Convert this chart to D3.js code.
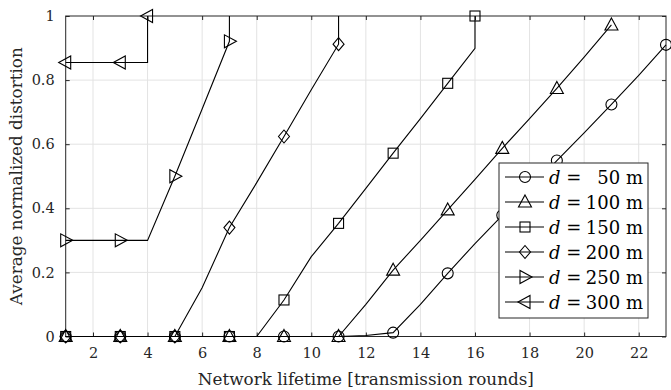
<!DOCTYPE html>
<html><head><meta charset="utf-8">
<script src="https://cdn.jsdelivr.net/npm/d3@7"></script>
<style>body{margin:0;background:#fff} text{font-family:"DejaVu Serif";}</style>
</head><body><svg id="c" width="671" height="390"></svg>
<script>
// Data: [x, y] points, markers every other point
const d50  = [[1,0],[2,0],[3,0],[4,0],[5,0],[6,0],[7,0],[8,0],[9,0],[10,0],[11,0],[12,0.003],[13,0.012],[14,0.1],[15,0.197],[16,0.29],[17,0.378],[18,0.46],[19,0.549],[20,0.635],[21,0.724],[22,0.815],[23,0.91]];
const d100 = [[1,0],[2,0],[3,0],[4,0],[5,0],[6,0],[7,0],[8,0],[9,0],[10,0],[11,0],[12,0.1],[13,0.207],[14,0.3],[15,0.395],[16,0.49],[17,0.587],[18,0.68],[19,0.774],[20,0.872],[21,0.972]];
const d150 = [[1,0],[2,0],[3,0],[4,0],[5,0],[6,0],[7,0],[8,0],[9,0.114],[10,0.249],[11,0.353],[12,0.462],[13,0.572],[14,0.68],[15,0.79],[16,0.899],[16,1]];
const d200 = [[1,0],[2,0],[3,0],[4,0],[5,0],[6,0.152],[7,0.34],[8,0.48],[9,0.624],[10,0.77],[11,0.912],[11,1]];
const d250 = [[1,0.3],[2,0.3],[3,0.3],[4,0.3],[5,0.5],[6,0.71],[7,0.921],[7,1]];
const d300 = [[1,0.855],[2,0.855],[3,0.855],[4,0.855],[4,1]];
const seriesNames = ["50","100","150","200","250","300"];
const seriesData = [d50,d100,d150,d200,d250,d300];
const markerTypes = ["circle","up","square","diamond","right","left"];
const xTicks = [2,4,6,8,10,12,14,16,18,20,22];
const yTicks = [0,0.2,0.4,0.6,0.8,1];
const yTickLabels = ["0","0.2","0.4","0.6","0.8","1"];

const svg = d3.select("#c");
const L=65.7, R=666, T=16, B=336.5;
const x = d3.scaleLinear().domain([1,23]).range([L,R]);
const y = d3.scaleLinear().domain([0,1]).range([B,T]);
const font = "DejaVu Serif";
const ink = "#262626";

// grid
const g = svg.append("g");
g.selectAll(".gx").data(xTicks).join("line")
  .attr("x1",d=>x(d)).attr("x2",d=>x(d)).attr("y1",T).attr("y2",B)
  .attr("stroke","#e3e3e3").attr("stroke-width",1);
g.selectAll(".gy").data(yTicks.filter(v=>v>0&&v<1)).join("line")
  .attr("x1",L).attr("x2",R).attr("y1",d=>y(d)).attr("y2",d=>y(d))
  .attr("stroke","#e3e3e3").attr("stroke-width",1);

// axes
const ax = d3.axisBottom(x).tickValues(xTicks).tickSize(-4).tickPadding(11).tickFormat(d3.format("d"));
const axT = d3.axisTop(x).tickValues(xTicks).tickSize(-4).tickFormat("");
const ay = d3.axisLeft(y).tickValues(yTicks).tickSize(-4).tickPadding(11).tickFormat((d,i)=>yTickLabels[i]);
const ayR = d3.axisRight(y).tickValues(yTicks).tickSize(-4).tickFormat("");
function style(sel){
  sel.attr("font-family",null).attr("font-size",null);
  sel.select(".domain").remove();
  sel.selectAll("line").attr("stroke",ink);
  sel.selectAll("text").attr("fill",ink).attr("font-family",font).attr("font-size",14.5);
}
svg.append("g").attr("transform",`translate(0,${B})`).call(ax).call(style);
svg.append("g").attr("transform",`translate(0,${T})`).call(axT).call(style);
svg.append("g").attr("transform",`translate(${L},0)`).call(ay).call(style);
svg.append("g").attr("transform",`translate(${R},0)`).call(ayR).call(style);
svg.append("rect").attr("x",L).attr("y",T).attr("width",R-L).attr("height",B-T)
  .attr("fill","none").attr("stroke",ink).attr("stroke-width",1);

// lines
const line = d3.line().x(d=>x(d[0])).y(d=>y(d[1]));
function marker(sel, type){
  if(type==="circle") sel.append("circle").attr("r",5.5);
  else if(type==="square") sel.append("rect").attr("x",-5).attr("y",-5).attr("width",10).attr("height",10);
  else if(type==="diamond") sel.append("path").attr("d",`M0,-6.5L5.5,0L0,6.5L-5.5,0Z`);
  else if(type==="up") sel.append("path").attr("d",`M0,-7L6.5,5L-6.5,5Z`);
  else if(type==="right") sel.append("path").attr("d",`M7,0L-5,-6.5L-5,6.5Z`);
  else if(type==="left") sel.append("path").attr("d",`M-7,0L5,-6.5L5,6.5Z`);
}
seriesData.forEach((data,si)=>{
  svg.append("path").datum(data).attr("d",line).attr("fill","none").attr("stroke","#000").attr("stroke-width",1.1);
  data.forEach((p,i)=>{
    if(i%2===0){
      const m = svg.append("g").attr("transform",`translate(${x(p[0])},${y(p[1])})`)
        .attr("fill","none").attr("stroke","#000").attr("stroke-width",1.1);
      marker(m, markerTypes[si]);
    }
  });
});

// legend
const lg = svg.append("g");
const lx=499, ly=163, lw=149, lh=155;
lg.append("rect").attr("x",lx).attr("y",ly).attr("width",lw).attr("height",lh)
  .attr("fill","#fff").attr("stroke",ink).attr("stroke-width",1);
seriesNames.forEach((n,i)=>{
  const cy = ly+14+i*25;
  lg.append("line").attr("x1",lx+6).attr("x2",lx+45).attr("y1",cy).attr("y2",cy).attr("stroke","#000").attr("stroke-width",1.1);
  const m = lg.append("g").attr("transform",`translate(${lx+26},${cy})`).attr("fill","none").attr("stroke","#000").attr("stroke-width",1.1);
  marker(m, markerTypes[i]);
  const t = lg.append("text").attr("x",lx+50).attr("y",cy+6.5).attr("font-family",font).attr("font-size",18).attr("fill","#000");
  t.append("tspan").attr("font-style","italic").text("d");
  t.append("tspan").text(" =");
  lg.append("text").attr("x",lx+144).attr("y",cy+6.5).attr("text-anchor","end").attr("font-family",font).attr("font-size",18).attr("fill","#000").text(n+" m");
});

// axis labels
svg.append("text").attr("x",(L+R)/2).attr("y",385).attr("text-anchor","middle")
  .attr("font-family",font).attr("font-size",16.8).attr("fill",ink).text("Network lifetime [transmission rounds]");
svg.append("text").attr("transform",`translate(22,${(T+B)/2}) rotate(-90)`).attr("text-anchor","middle")
  .attr("font-family",font).attr("font-size",16.8).attr("fill",ink).text("Average normalized distortion");
</script></body></html>
